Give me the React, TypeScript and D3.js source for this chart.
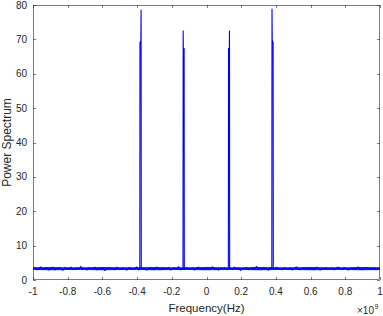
import React, { useEffect, useRef } from 'react';
import * as d3 from 'd3';

// frequency ticks (x 1e9 Hz) and power ticks
const xTicks = [-1, -0.8, -0.6, -0.4, -0.2, 0, 0.2, 0.4, 0.6, 0.8, 1];
const yTicks = [0, 10, 20, 30, 40, 50, 60, 70, 80];

// noise floor samples
const noiseFloor = [
  3.3, 3.6, 3.0, 3.4, 3.8, 3.1, 3.2, 3.5, 2.9, 3.4, 3.7, 3.0, 3.3, 3.6, 3.2, 2.8, 3.5, 3.4, 3.1, 3.7,
  3.2, 3.0, 3.5, 3.3, 3.9, 3.1, 3.4, 2.9, 3.6, 3.2, 3.3, 3.7, 3.0, 3.4, 3.1, 3.5, 2.8, 3.3, 3.6, 3.2,
  3.4, 3.0, 3.7, 3.3, 3.1, 3.5, 3.2, 2.9, 3.6, 3.4, 3.1, 3.3, 3.8, 3.0, 3.2, 3.5, 3.3, 2.9, 3.4, 3.6,
  3.1, 3.3, 3.7, 3.2, 3.0, 3.5, 3.4, 3.1, 3.6, 2.9, 3.3, 3.5, 3.2, 3.8, 3.0, 3.4, 3.1, 3.6, 3.3, 3.2,
  3.5, 2.9, 3.4, 3.7, 3.1, 3.3, 3.0, 3.6, 3.2, 3.4, 3.8, 3.1, 3.3, 2.9, 3.5, 3.2, 3.6, 3.0, 3.4, 3.3,
  3.1, 3.7, 3.2, 3.5, 2.8, 3.4, 3.3, 3.6, 3.0, 3.2, 3.5, 3.1, 3.9, 3.3, 3.0, 3.4, 3.6, 3.2, 2.9, 3.5,
  3.3, 3.1, 3.7, 3.2, 3.4, 3.0, 3.6, 3.3, 3.1, 3.5, 2.9, 3.4, 3.8, 3.2, 3.0, 3.3, 3.6, 3.1, 3.4, 3.2,
  3.5, 3.0, 3.7, 3.3, 2.9, 3.4, 3.2, 3.6, 3.1, 3.3, 3.5, 3.0, 3.4, 3.7, 3.2, 3.1, 3.6, 3.3, 2.9, 3.4,
  3.2, 3.5, 3.1, 3.8, 3.3, 3.0, 3.4, 3.6, 3.2, 3.3, 3.1, 3.5, 3.0, 3.4, 3.2,
];

// solid core of the noise band (lower / upper edge), every 0.1e9
const bandFreq = [-1, -0.9, -0.8, -0.7, -0.6, -0.5, -0.4, -0.3, -0.2, -0.1, 0, 0.1, 0.2, 0.3, 0.4, 0.5, 0.6, 0.7, 0.8, 0.9, 1];
const bandLow = [2.9, 2.85, 2.9, 2.9, 2.85, 2.9, 2.9, 2.85, 2.9, 2.9, 2.85, 2.9, 2.9, 2.85, 2.9, 2.9, 2.85, 2.9, 2.9, 2.85, 2.9];
const bandHigh = [3.7, 3.75, 3.7, 3.7, 3.75, 3.7, 3.7, 3.75, 3.7, 3.7, 3.75, 3.7, 3.7, 3.75, 3.7, 3.7, 3.75, 3.7, 3.7, 3.75, 3.7];

// carrier peaks: [frequency (x1e9), power]
const peak1 = [[-0.3845, 3.2], [-0.3835, 69.0], [-0.3815, 69.3], [-0.3800, 68.9], [-0.3785, 69.3], [-0.3770, 78.6], [-0.3760, 3.4]];
const peak2 = [[-0.1355, 3.3], [-0.1345, 72.6], [-0.1335, 65.7], [-0.1320, 65.8], [-0.1305, 67.4], [-0.1290, 67.3], [-0.1280, 3.2]];
const peak3 = [[0.1260, 3.3], [0.1270, 67.3], [0.1285, 67.4], [0.1300, 65.8], [0.1315, 65.7], [0.1325, 72.6], [0.1335, 3.2]];
const peak4 = [[0.3765, 3.4], [0.3775, 78.9], [0.3790, 69.3], [0.3805, 68.9], [0.3820, 69.3], [0.3840, 69.0], [0.3850, 3.2]];

const W = 383;
const H = 316;
const margin = { top: 5, right: 3, bottom: 36, left: 33 };
const axisColor = '#262626';
const font = '"Liberation Sans", Arial, sans-serif';

const App = () => {
  const svgRef = useRef(null);

  useEffect(() => {
    const svg = d3.select(svgRef.current);
    svg.selectAll('*').remove();

    const x = d3.scaleLinear().domain([-1, 1]).range([margin.left, W - margin.right]);
    const y = d3.scaleLinear().domain([0, 80]).range([H - margin.bottom, margin.top]);

    // merge noise floor with the peaks
    const noiseFreq = d3.range(noiseFloor.length).map(i => -1 + (2 * i) / (noiseFloor.length - 1));
    const noisePts = noiseFloor.map((p, i) => [noiseFreq[i], p]);
    const peaks = [peak1, peak2, peak3, peak4];
    const spans = peaks.map(pk => [pk[0][0], pk[pk.length - 1][0]]);
    const pts = noisePts
      .filter(d => !spans.some(s => d[0] >= s[0] && d[0] <= s[1]))
      .concat(...peaks)
      .sort((a, b) => a[0] - b[0]);

    const g = svg.append('g');

    g.append('clipPath').attr('id', 'plotclip')
      .append('rect')
      .attr('x', margin.left).attr('y', margin.top)
      .attr('width', W - margin.left - margin.right)
      .attr('height', H - margin.top - margin.bottom);

    // dense core of the noise floor
    const band = d3.area()
      .x((d, i) => x(bandFreq[i]))
      .y0((d, i) => y(bandLow[i]))
      .y1((d, i) => y(bandHigh[i]));
    g.append('path')
      .datum(bandFreq)
      .attr('clip-path', 'url(#plotclip)')
      .attr('d', band)
      .attr('fill', '#0000ff')
      .attr('opacity', 0.9);

    const line = d3.line().x(d => x(d[0])).y(d => y(d[1]));

    g.append('path')
      .datum(pts)
      .attr('clip-path', 'url(#plotclip)')
      .attr('d', line)
      .attr('fill', 'none')
      .attr('stroke', '#0000ff')
      .attr('stroke-width', 1.1);

    // box
    const x0 = x(-1), x1 = x(1), y0 = y(0), y1 = y(80);
    g.append('rect')
      .attr('x', x0 + 0.5).attr('y', y1 + 0.5)
      .attr('width', x1 - x0 - 1).attr('height', y0 - y1 - 1)
      .attr('fill', 'none')
      .attr('stroke', axisColor)
      .attr('stroke-width', 0.6);

    const tickLen = 3;
    // x ticks (bottom and top, inward)
    xTicks.forEach(t => {
      const px = Math.round(x(t)) + 0.5;
      g.append('line').attr('x1', px).attr('x2', px).attr('y1', y0).attr('y2', y0 - tickLen)
        .attr('stroke', axisColor).attr('stroke-width', 0.6);
      g.append('line').attr('x1', px).attr('x2', px).attr('y1', y1).attr('y2', y1 + tickLen)
        .attr('stroke', axisColor).attr('stroke-width', 0.6);
      g.append('text')
        .attr('x', x(t)).attr('y', y0 + 14.5)
        .attr('text-anchor', 'middle')
        .style('font-family', font).style('font-size', '10px')
        .attr('fill', axisColor)
        .text(String(t));
    });

    // y ticks (left and right, inward)
    yTicks.forEach(t => {
      const py = Math.round(y(t)) + 0.5;
      g.append('line').attr('x1', x0).attr('x2', x0 + tickLen).attr('y1', py).attr('y2', py)
        .attr('stroke', axisColor).attr('stroke-width', 0.6);
      g.append('line').attr('x1', x1).attr('x2', x1 - tickLen).attr('y1', py).attr('y2', py)
        .attr('stroke', axisColor).attr('stroke-width', 0.6);
      g.append('text')
        .attr('x', x0 - 6).attr('y', y(t) + 3.5)
        .attr('text-anchor', 'end')
        .style('font-family', font).style('font-size', '10px')
        .attr('fill', axisColor)
        .text(t);
    });

    // axis labels
    g.append('text')
      .attr('x', x(0)).attr('y', 312)
      .attr('text-anchor', 'middle')
      .style('font-family', font).style('font-size', '11.5px')
      .attr('fill', axisColor)
      .text('Frequency(Hz)');

    g.append('text')
      .attr('transform', `translate(10.5,${(y0 + y1) / 2}) rotate(-90)`)
      .attr('text-anchor', 'middle')
      .style('font-family', font).style('font-size', '12px')
      .attr('fill', axisColor)
      .text('Power Spectrum');

    // exponent
    g.append('text')
      .attr('x', 374).attr('y', 314)
      .attr('text-anchor', 'end')
      .style('font-family', font).style('font-size', '10px')
      .attr('fill', axisColor)
      .text('\u00d710');
    g.append('text')
      .attr('x', 374.5).attr('y', 308.5)
      .style('font-family', font).style('font-size', '7px')
      .attr('fill', axisColor)
      .text('9');
  }, []);

  return (
    <svg
      ref={svgRef}
      width={W}
      height={H}
      style={{ position: 'fixed', left: 0, top: 0, background: '#fff' }}
    />
  );
};

export default App;
